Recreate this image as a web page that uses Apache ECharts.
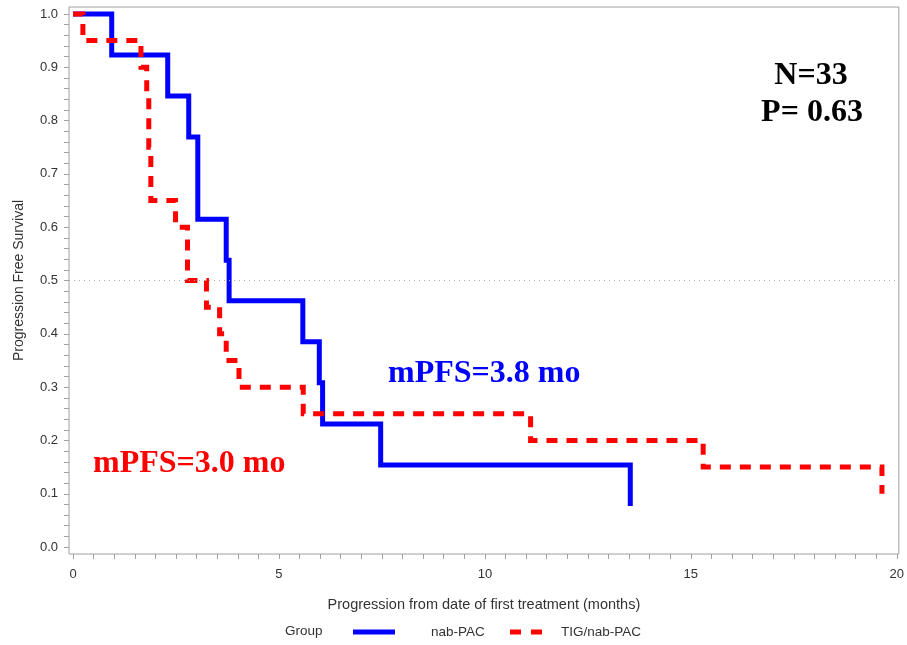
<!DOCTYPE html>
<html>
<head>
<meta charset="utf-8">
<script src="https://cdn.jsdelivr.net/npm/echarts@6/dist/echarts.min.js"></script>
<style>
html,body{margin:0;padding:0;background:#fff;}
#chart{width:907px;height:645px;}
</style>
</head>
<body>
<div id="chart"></div>
<script>
// Kaplan-Meier steps (time in months, survival)
const nabTimes = [0, 0.94, 2.30, 2.81, 3.03, 3.72, 3.79, 5.58, 5.98, 6.06, 7.47, 13.53];
const nabSurv  = [1.0, 0.923, 0.846, 0.769, 0.615, 0.538, 0.462, 0.385, 0.308, 0.231, 0.154, 0.077];
const tigTimes = [0, 0.24, 1.65, 1.79, 1.84, 1.89, 2.49, 2.78, 3.24, 3.56, 3.72, 4.03, 5.59, 11.11, 15.30, 19.64];
const tigSurv  = [1.0, 0.95, 0.90, 0.85, 0.75, 0.65, 0.60, 0.50, 0.45, 0.40, 0.35, 0.30, 0.25, 0.20, 0.15, 0.10];
const seriesNames = ['nab-PAC', 'TIG/nab-PAC'];
const xTickLabels = [0, 5, 10, 15, 20];
const yTickLabels = [0, 0.1, 0.2, 0.3, 0.4, 0.5, 0.6, 0.7, 0.8, 0.9, 1.0];
const medianLine = 0.5;
const annotations = ['N=33', 'P= 0.63', 'mPFS=3.8 mo', 'mPFS=3.0 mo'];
const xTitle = 'Progression from date of first treatment (months)';
const yTitle = 'Progression Free Survival';
const legendTitle = 'Group';

const xMinor = [];
for (let i = 0; i <= 40; i++) xMinor.push(i * 0.5);
const yMinor = [];
for (let i = 0; i <= 50; i++) yMinor.push(+(i * 0.02).toFixed(2));

const pair = (ts, ss) => ts.map((t, i) => [t, ss[i]]);

const FONT = 'Liberation Sans';
const GRAY = '#a0a0a0';

const chart = echarts.init(document.getElementById('chart'), null, {renderer: 'canvas'});
chart.setOption({
  animation: false,
  backgroundColor: '#fff',
  grid: {left: 69, right: 6, top: 7, bottom: 91, show: true, borderColor: GRAY, borderWidth: 1, backgroundColor: 'transparent'},
  xAxis: {
    type: 'value', min: -0.097, max: 20.05,
    name: xTitle, nameLocation: 'middle', nameGap: 43,
    nameTextStyle: {fontFamily: FONT, fontSize: 14.5, color: '#333'},
    axisLine: {show: false, onZero: false},
    splitLine: {show: false},
    axisTick: {show: true, inside: false, length: 5, lineStyle: {color: GRAY}, customValues: xMinor},
    axisLabel: {customValues: xTickLabels, fontFamily: FONT, fontSize: 13, color: '#333', margin: 14,
      formatter: v => String(Math.round(v))}
  },
  yAxis: {
    type: 'value', min: -0.013, max: 1.013,
    name: yTitle, nameLocation: 'middle', nameGap: 43, nameRotate: 90,
    nameTextStyle: {fontFamily: FONT, fontSize: 14, color: '#333'},
    axisLine: {show: false, onZero: false},
    splitLine: {show: false},
    axisTick: {show: true, inside: false, length: 5, lineStyle: {color: GRAY}, customValues: yMinor},
    axisLabel: {customValues: yTickLabels, fontFamily: FONT, fontSize: 13, color: '#333', margin: 11,
      formatter: v => v.toFixed(1)}
  },
  legend: [
    {left: 353, top: 625, padding: 0, itemWidth: 42, itemHeight: 5, itemGap: 0,
      data: [{name: seriesNames[0], icon: 'rect'}],
      textStyle: {fontFamily: FONT, fontSize: 13.5, color: '#333', padding: [0, 0, 0, 31]}},
    {left: 510, top: 625, padding: 0, itemWidth: 32, itemHeight: 5, itemGap: 0,
      data: [{name: seriesNames[1], icon: 'path://M0,0h11v5h-11z M21,0h11v5h-11z'}],
      textStyle: {fontFamily: FONT, fontSize: 13.5, color: '#333', padding: [0, 0, 0, 14]}}
  ],
  series: [
    {
      name: seriesNames[0], type: 'line', step: 'end', symbol: 'none',
      data: pair(nabTimes, nabSurv),
      lineStyle: {color: '#0000ff', width: 5, cap: 'butt', join: 'miter'},
      itemStyle: {color: '#0000ff'},
      z: 3,
      markLine: {
        silent: true, symbol: 'none', label: {show: false},
        lineStyle: {color: '#aaa', type: [1, 4], width: 1},
        data: [{yAxis: medianLine}]
      }
    },
    {
      name: seriesNames[1], type: 'line', step: 'end', symbol: 'none',
      data: pair(tigTimes, tigSurv),
      lineStyle: {color: '#ff0000', width: 5, type: [11, 9], cap: 'butt', join: 'miter'},
      itemStyle: {color: '#ff0000'},
      z: 4
    }
  ],
  graphic: [
    {type: 'text', left: 285, top: 624, style: {text: legendTitle, font: '13.5px "Liberation Sans"', fill: '#333'}},
    {type: 'text', x: 811, y: 60, style: {text: annotations[0], font: 'bold 32px "Liberation Serif"', fill: '#000', align: 'center', verticalAlign: 'alphabetic'}},
    {type: 'text', x: 812, y: 97, style: {text: annotations[1], font: 'bold 32px "Liberation Serif"', fill: '#000', align: 'center', verticalAlign: 'alphabetic'}},
    {type: 'text', x: 388, y: 358, style: {text: annotations[2], font: 'bold 32px "Liberation Serif"', fill: '#0000ff', align: 'left', verticalAlign: 'alphabetic'}},
    {type: 'text', x: 93, y: 448, style: {text: annotations[3], font: 'bold 32px "Liberation Serif"', fill: '#ff0000', align: 'left', verticalAlign: 'alphabetic'}}
  ]
});
</script>
</body>
</html>
